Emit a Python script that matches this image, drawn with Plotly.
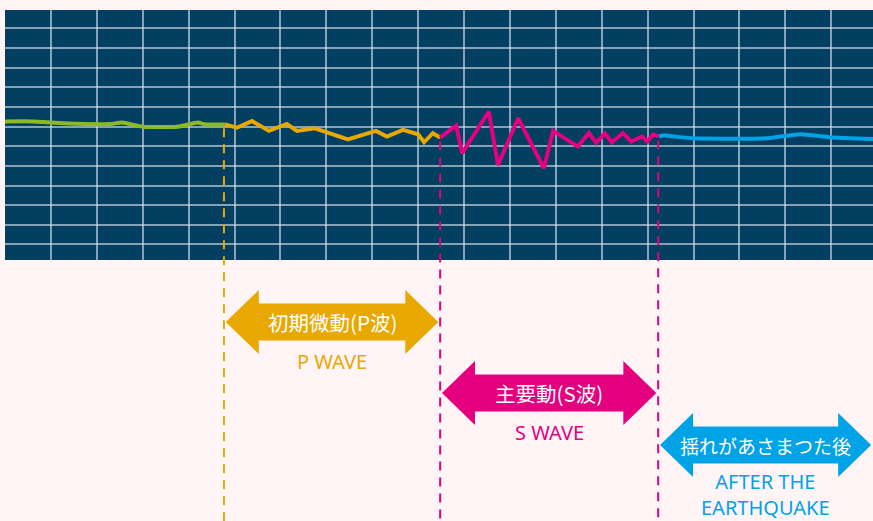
import plotly.graph_objects as go

# ---- Data: seismograph trace (time and amplitude in grid divisions) ----
green_t = [0.00, 0.61, 1.57, 2.29, 2.55, 3.01, 3.75, 4.20, 4.36, 4.79]
green_y = [0.26, 0.26, 0.14, 0.13, 0.20, -0.01, -0.01, 0.20, 0.11, 0.11]

orange_t = [4.79, 5.05, 5.38, 5.75, 6.14, 6.36, 6.75, 7.47, 8.08, 8.32, 8.67, 9.00, 9.13, 9.32, 9.48]
orange_y = [0.11, -0.06, 0.28, -0.22, 0.13, -0.22, -0.09, -0.65, -0.22, -0.51, -0.17, -0.39, -0.80, -0.34, -0.56]

pink_t = [9.48, 9.83, 9.96, 10.54, 10.74, 11.18, 11.74, 11.94, 12.48, 12.72, 12.88, 13.07, 13.22,
          13.46, 13.64, 13.88, 13.99, 14.12, 14.25]
pink_y = [-0.56, 0.05, -1.36, 0.76, -1.95, 0.42, -2.12, -0.22, -1.02, -0.33, -0.83, -0.35, -0.81,
          -0.33, -0.76, -0.50, -0.77, -0.40, -0.50]

blue_t = [14.25, 14.34, 14.99, 16.60, 17.32, 17.97, 18.91]
blue_y = [-0.50, -0.46, -0.60, -0.60, -0.39, -0.54, -0.63]

# phase boundaries (time) and labels
phase_bounds = [4.77, 9.48, 14.23, 18.91]
phase_start_amp = [0.11, -0.56, -0.50]
labels_ja = ["初期微動(P波)", "主要動(S波)", "揺れがあさまつた後"]
labels_en = ["P WAVE", "S WAVE", "AFTER THE<br>EARTHQUAKE"]

# ---- Styles ----
NAVY = "#023F61"
BG = "#FFF5F7"
GREEN = "#8CBA23"
ORANGE = "#E8A800"
PINK = "#E4007F"
BLUE = "#00A3E6"
GRID = "rgba(215,225,233,0.62)"
phase_colors = [ORANGE, PINK, BLUE]
dash_colors = [ORANGE, PINK, PINK]
ja_sizes = [20.5, 20.5, 19]

W, H = 873, 521
X_RANGE = [0, 18.91]
Y_RANGE = [-6.79, 5.93]
Y_DOMAIN = [(H - 260) / H, (H - 10) / H]


def amp_to_paper(v):
    return Y_DOMAIN[0] + (v - Y_RANGE[0]) / (Y_RANGE[1] - Y_RANGE[0]) * (Y_DOMAIN[1] - Y_DOMAIN[0])


def px_to_paper(py):
    return (H - py) / H


fig = go.Figure()
for t, y, c, shape in [(green_t, green_y, GREEN, "spline"),
                       (orange_t, orange_y, ORANGE, "linear"),
                       (pink_t, pink_y, PINK, "linear"),
                       (blue_t, blue_y, BLUE, "spline")]:
    fig.add_trace(go.Scatter(x=t, y=y, mode="lines",
                             line=dict(color=c, width=4, shape=shape, smoothing=0.5),
                             hoverinfo="skip", showlegend=False))

shapes = []
annotations = []

# dashed boundary lines
for i in range(3):
    shapes.append(dict(type="line", xref="x", yref="paper",
                       x0=phase_bounds[i], x1=phase_bounds[i],
                       y0=amp_to_paper(phase_start_amp[i] - 0.2), y1=0,
                       line=dict(color=dash_colors[i], width=2, dash="9px,7px"),
                       layer="above"))

# double arrows
arrow_centers = [322, 393, 445]      # pixel rows
head_half = 32 / H
shaft_half = 18.5 / H
head_len = 33 / 45.9
inset = 0.04
label_en_centers = [361, 432, 494]
for i in range(3):
    xl = phase_bounds[i] + inset
    xr = phase_bounds[i + 1] - inset
    yc = px_to_paper(arrow_centers[i])
    pts = [
        (xl, yc),
        (xl + head_len, yc + head_half),
        (xl + head_len, yc + shaft_half),
        (xr - head_len, yc + shaft_half),
        (xr - head_len, yc + head_half),
        (xr, yc),
        (xr - head_len, yc - head_half),
        (xr - head_len, yc - shaft_half),
        (xl + head_len, yc - shaft_half),
        (xl + head_len, yc - head_half),
    ]
    path = "M " + " L ".join(f"{x:.4f},{y:.4f}" for x, y in pts) + " Z"
    shapes.append(dict(type="path", xref="x", yref="paper", path=path,
                       fillcolor=phase_colors[i], line=dict(width=0), layer="above"))
    xm = (xl + xr) / 2
    annotations.append(dict(x=xm, y=yc, xref="x", yref="paper", text=labels_ja[i],
                            showarrow=False, xanchor="center", yanchor="middle",
                            font=dict(family="Noto Sans CJK JP", size=ja_sizes[i], color="white")))
    annotations.append(dict(x=xm, y=px_to_paper(label_en_centers[i]), xref="x", yref="paper",
                            text=labels_en[i], showarrow=False, xanchor="center", yanchor="middle",
                            borderpad=0,
                            font=dict(family="Noto Sans", size=20, color=phase_colors[i])))

fig.update_layout(
    width=W, height=H,
    margin=dict(l=0, r=0, t=0, b=0),
    paper_bgcolor=BG, plot_bgcolor=NAVY,
    shapes=shapes, annotations=annotations,
    xaxis=dict(domain=[5 / W, 1], range=X_RANGE, tickmode="array",
               tickvals=list(range(1, 19)), showticklabels=False, ticks="",
               showgrid=True, gridcolor=GRID, gridwidth=1.5,
               zeroline=False, showline=False, fixedrange=True),
    yaxis=dict(domain=Y_DOMAIN, range=Y_RANGE, tickmode="array",
               tickvals=list(range(-6, 6)), showticklabels=False, ticks="",
               showgrid=True, gridcolor=GRID, gridwidth=1.5,
               zeroline=False, showline=False, fixedrange=True),
    showlegend=False,
)

fig.write_html("out.html", config={"displayModeBar": False},
               post_script="document.body.style.margin='0px';document.body.style.background='" + BG + "';")
